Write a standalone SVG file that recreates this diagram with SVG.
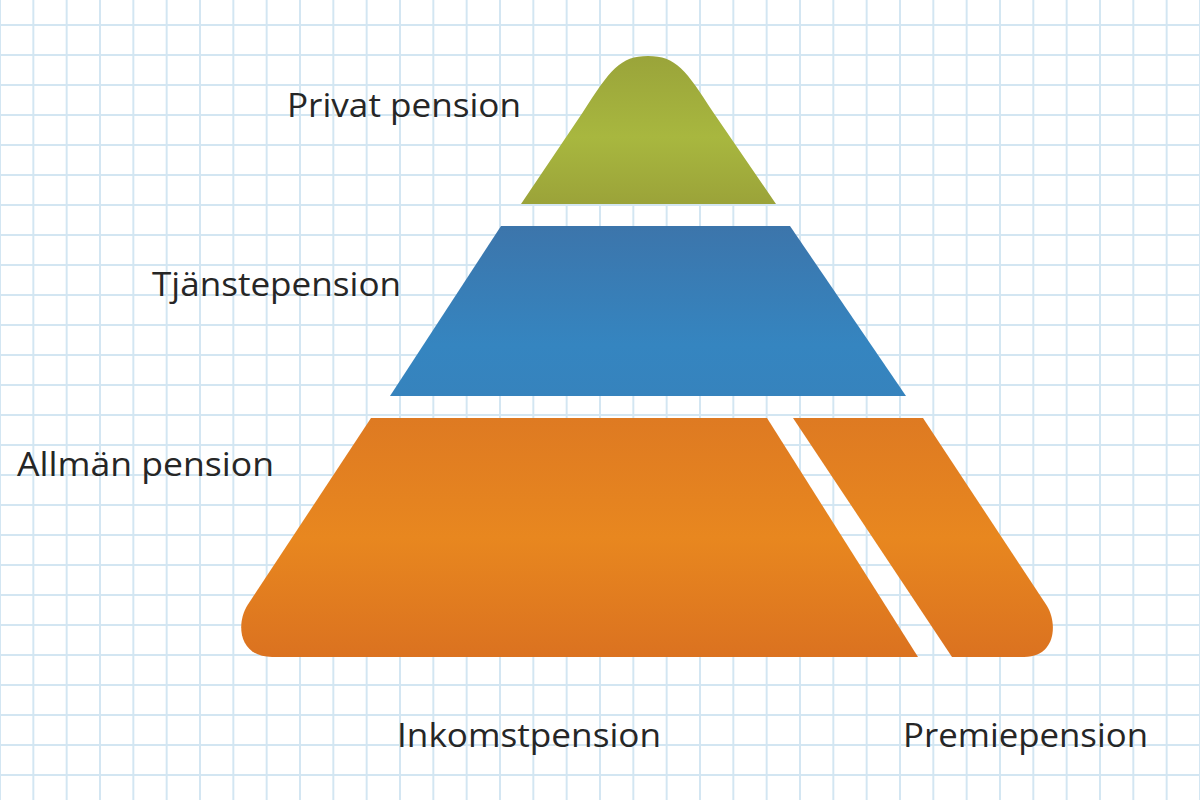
<svg xmlns="http://www.w3.org/2000/svg" width="1200" height="800" viewBox="0 0 1200 800">
  <defs>
    <pattern id="grid" patternUnits="userSpaceOnUse" x="-16.667" y="10" width="33.333" height="30">
      <line x1="16.667" y1="0" x2="16.667" y2="30" stroke="#d3e6f2" stroke-width="2"/>
      <line x1="0" y1="15" x2="33.333" y2="15" stroke="#d3e6f2" stroke-width="2"/>
    </pattern>
    <linearGradient id="gGreen" gradientUnits="userSpaceOnUse" x1="0" y1="56" x2="0" y2="204">
      <stop offset="0" stop-color="#9aa43a"/>
      <stop offset="0.55" stop-color="#a8b73f"/>
      <stop offset="1" stop-color="#9ba339"/>
    </linearGradient>
    <linearGradient id="gBlue" gradientUnits="userSpaceOnUse" x1="0" y1="226" x2="0" y2="396">
      <stop offset="0" stop-color="#3c75ab"/>
      <stop offset="0.7" stop-color="#3585c0"/>
      <stop offset="1" stop-color="#3683bd"/>
    </linearGradient>
    <linearGradient id="gOrange" gradientUnits="userSpaceOnUse" x1="0" y1="418" x2="0" y2="657">
      <stop offset="0" stop-color="#de7a22"/>
      <stop offset="0.5" stop-color="#e8871f"/>
      <stop offset="1" stop-color="#db7220"/>
    </linearGradient>
  </defs>
  <style>
    .lbl { font-family: "Open Sans", "Liberation Sans", sans-serif; font-size: 32px; fill: #262626; }
  </style>
  <rect x="0" y="0" width="1200" height="800" fill="#ffffff"/>
  <rect x="0" y="0" width="1200" height="800" fill="url(#grid)"/>

  <g id="privat">
    <path d="M521,204 L583,112 C610,70 620,56 648,56 C676,56 686,70 713,112 L776,204 Z" fill="url(#gGreen)"/>
    <text class="lbl" x="287" y="117" textLength="234" lengthAdjust="spacingAndGlyphs">Privat pension</text>
  </g>
  <g id="tjanste">
    <path d="M501,226 L790,226 L906,396 L390,396 Z" fill="url(#gBlue)"/>
    <text class="lbl" x="152" y="296" textLength="249" lengthAdjust="spacingAndGlyphs">Tjänstepension</text>
  </g>
  <g id="allman">
    <text class="lbl" x="17" y="476" textLength="257" lengthAdjust="spacingAndGlyphs">Allmän pension</text>
  </g>
  <g id="inkomst">
    <path d="M371,418 L767,418 L918,657 L272,657 C238,657 236,623 247.6,605 Z" fill="url(#gOrange)"/>
    <text class="lbl" x="397" y="747" textLength="264" lengthAdjust="spacingAndGlyphs">Inkomstpension</text>
  </g>
  <g id="premie">
    <path d="M793,418 L923,418 L1046.4,605 C1058,623 1056,657 1024,657 L952,657 Z" fill="url(#gOrange)"/>
    <text class="lbl" x="903" y="747" textLength="245" lengthAdjust="spacingAndGlyphs">Premiepension</text>
  </g>
  <g id="connectors"></g>
</svg>
